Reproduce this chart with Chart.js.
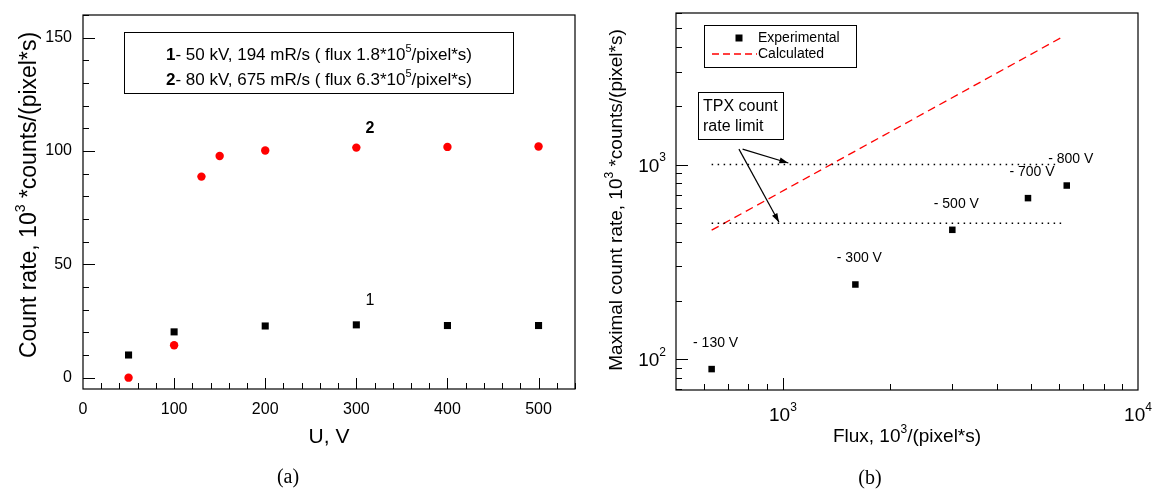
<!DOCTYPE html>
<html><head><meta charset="utf-8">
<script src="https://cdn.jsdelivr.net/npm/chart.js@4/dist/chart.umd.min.js"></script>
<style>
html,body{margin:0;padding:0;background:#fff;width:1153px;height:491px;overflow:hidden}
#c1{position:absolute;left:0;top:0}
#c2{position:absolute;left:580px;top:0}
</style></head><body>
<canvas id="c1" width="580" height="491"></canvas>
<canvas id="c2" width="573" height="491"></canvas>
<script>
// ---------- (a) data ----------
const voltage1 = [50, 100, 200, 300, 400, 500];
const rate1 = [10.0, 20.2, 22.8, 23.3, 23.0, 23.0];
const voltage2 = [50, 100, 130, 150, 200, 300, 400, 500];
const rate2 = [0.0, 14.3, 88.7, 97.8, 100.2, 101.5, 101.8, 102.0];
const xTicksA = [0, 100, 200, 300, 400, 500];
const yTicksA = [0, 50, 100, 150];
const seriesTags = ['1', '2'];
const seriesTagX = [315, 315];
const seriesTagY = [34, 110];
const legendLinesA = [
  [{t:'1', b:true}, {t:'- 50 kV, 194 mR/s ( flux 1.8*10'}, {t:'5', sup:true}, {t:'/pixel*s)'}],
  [{t:'2', b:true}, {t:'- 80 kV, 675 mR/s ( flux 6.3*10'}, {t:'5', sup:true}, {t:'/pixel*s)'}]
];

// ---------- (b) data ----------
const flux = [630, 1600, 3000, 4900, 6300];
const maxRate = [89, 242, 462, 672, 780];
const biasLabels = ['- 130 V', '- 300 V', '- 500 V', '- 700 V', '- 800 V'];
const calcFlux = [630, 6100];
const calcRate = [460, 4500];
const limitHighX = [630, 5900];
const limitHighY = [1000, 1000];
const limitLowX = [630, 6200];
const limitLowY = [500, 500];
const xTicksB = [1000, 10000];
const yTicksB = [100, 1000];
const arrowStart = [[770, 1200], [752, 1200]];
const arrowEnd = [[1036, 1018], [975, 505]];

const SANS = '"Liberation Sans", Arial, sans-serif';
const SERIF = '"Liberation Serif", "Times New Roman", serif';

function drawRich(ctx, segs, x, y, size, align, family, supRaise) {
  family = family || SANS;
  const raise = supRaise == null ? 0.5 : supRaise;
  let total = 0;
  const parts = segs.map(s => {
    const fs = s.sup ? Math.round(size * 0.62) : size;
    const f = (s.b ? 'bold ' : '') + fs + 'px ' + family;
    ctx.font = f;
    const w = ctx.measureText(s.t).width;
    total += w;
    return {s, f, w};
  });
  let cx = align === 'center' ? x - total / 2 : align === 'right' ? x - total : x;
  ctx.textAlign = 'left';
  ctx.textBaseline = 'alphabetic';
  for (const p of parts) {
    ctx.font = p.f;
    ctx.fillText(p.s.t, cx, y + (p.s.sup ? -size * raise : 0));
    cx += p.w;
  }
}
function line(ctx, x1, y1, x2, y2) {
  ctx.beginPath(); ctx.moveTo(x1, y1); ctx.lineTo(x2, y2); ctx.stroke();
}

// ---------- chart (a) ----------
const frameA = {
  id: 'frameA',
  afterDraw(chart) {
    const ctx = chart.ctx, ca = chart.chartArea, xs = chart.scales.x, ys = chart.scales.y;
    ctx.save();
    ctx.strokeStyle = '#000'; ctx.fillStyle = '#000'; ctx.lineWidth = 1.2;
    ctx.strokeRect(ca.left, ca.top, ca.right - ca.left, ca.bottom - ca.top);
    ctx.lineWidth = 1;
    for (let v = 0; v <= ys.max; v += 10) {
      const y = Math.round(ys.getPixelForValue(v)) + 0.5;
      line(ctx, ca.left, y, ca.left + (yTicksA.includes(v) ? 12 : 6), y);
    }
    for (let v = 20; v <= xs.max; v += 20) {
      const x = Math.round(xs.getPixelForValue(v)) + 0.5;
      line(ctx, x, ca.bottom, x, ca.bottom - (xTicksA.includes(v) ? 11 : 6));
    }
    ctx.font = '16px ' + SANS;
    ctx.textAlign = 'right'; ctx.textBaseline = 'middle';
    yTicksA.forEach(v => ctx.fillText(String(v), ca.left - 11, ys.getPixelForValue(v)));
    ctx.textAlign = 'center';
    xTicksA.forEach(v => ctx.fillText(String(v), xs.getPixelForValue(v), 410));
    // axis titles
    ctx.font = '21px ' + SANS;
    ctx.fillText('U, V', (ca.left + ca.right) / 2, 437);
    ctx.save();
    ctx.translate(28, 195); ctx.rotate(-Math.PI / 2);
    drawRich(ctx, [{t:'Count rate, 10'}, {t:'3', sup:true}, {t:' *counts/(pixel*s)'}], 0, 8, 23, 'center');
    ctx.restore();
    // sub caption
    ctx.font = '20px ' + SERIF; ctx.textAlign = 'center'; ctx.textBaseline = 'middle';
    ctx.fillText('(a)', 288, 478);
    // legend box
    ctx.lineWidth = 1;
    ctx.strokeRect(124.5, 32.5, 389, 61);
    drawRich(ctx, legendLinesA[0], 319, 60, 17, 'center');
    drawRich(ctx, legendLinesA[1], 319, 85, 17, 'center');
    // series tags
    seriesTags.forEach((t, i) => {
      ctx.font = (i === 1 ? 'bold ' : '') + '16px ' + SANS;
      ctx.textAlign = 'center'; ctx.textBaseline = 'middle';
      ctx.fillText(t, xs.getPixelForValue(seriesTagX[i]), ys.getPixelForValue(seriesTagY[i]));
    });
    ctx.restore();
  }
};

new Chart(document.getElementById('c1'), {
  type: 'scatter',
  data: {
    datasets: [
      {data: voltage1.map((x, i) => ({x, y: rate1[i]})), pointStyle: 'rect', pointRadius: 5,
       backgroundColor: '#000', borderColor: '#000', borderWidth: 0},
      {data: voltage2.map((x, i) => ({x, y: rate2[i]})), pointStyle: 'circle', pointRadius: 4.2,
       backgroundColor: '#ff0000', borderColor: '#ff0000', borderWidth: 0}
    ]
  },
  options: {
    responsive: false, animation: false, devicePixelRatio: 1, events: [],
    layout: {padding: {left: 83, right: 4, top: 15, bottom: 102}},
    plugins: {legend: {display: false}, tooltip: {enabled: false}},
    scales: {
      x: {type: 'linear', min: 0, max: 540, display: false},
      y: {type: 'linear', min: -5, max: 160, display: false}
    }
  },
  plugins: [frameA]
});

// ---------- chart (b) ----------
const frameB = {
  id: 'frameB',
  afterDraw(chart) {
    const ctx = chart.ctx, ca = chart.chartArea, xs = chart.scales.x, ys = chart.scales.y;
    ctx.save();
    ctx.strokeStyle = '#000'; ctx.fillStyle = '#000'; ctx.lineWidth = 1.2;
    ctx.strokeRect(ca.left, ca.top, ca.right - ca.left, ca.bottom - ca.top);
    ctx.lineWidth = 1;
    for (let d = 10; d <= 1000; d *= 10) {
      for (let m = 1; m <= 9; m++) {
        const v = m * d;
        if (v < ys.min || v > ys.max) continue;
        const y = Math.round(ys.getPixelForValue(v)) + 0.5;
        line(ctx, ca.left, y, ca.left + (m === 1 ? 12 : 6), y);
      }
    }
    for (let d = 100; d <= 1000; d *= 10) {
      for (let m = 1; m <= 9; m++) {
        const v = m * d;
        if (v <= xs.min || v >= xs.max) continue;
        const x = Math.round(xs.getPixelForValue(v)) + 0.5;
        line(ctx, x, ca.bottom, x, ca.bottom - (m === 1 ? 12 : 6));
      }
    }
    const sup = v => [{t:'10'}, {t:String(Math.round(Math.log10(v))), sup:true}];
    yTicksB.forEach(v => drawRich(ctx, sup(v), ca.left - 10, ys.getPixelForValue(v) + 7, 19, 'right', SANS, 0.55));
    xTicksB.forEach(v => drawRich(ctx, sup(v), xs.getPixelForValue(v), 421, 19, 'center', SANS, 0.55));
    drawRich(ctx, [{t:'Flux, 10'}, {t:'3', sup:true}, {t:'/(pixel*s)'}], (ca.left + ca.right) / 2, 442, 19, 'center');
    ctx.save();
    ctx.translate(35, 200); ctx.rotate(-Math.PI / 2);
    drawRich(ctx, [{t:'Maximal count rate, 10'}, {t:'3', sup:true}, {t:' *counts/(pixel*s)'}], 0, 7, 19, 'center');
    ctx.restore();
    ctx.font = '20px ' + SERIF; ctx.textAlign = 'center'; ctx.textBaseline = 'middle';
    ctx.fillText('(b)', 290, 479);
    // bias labels
    ctx.font = '14px ' + SANS;
    flux.forEach((f, i) => {
      ctx.fillText(biasLabels[i], xs.getPixelForValue(f) + 4, ys.getPixelForValue(maxRate[i]) - 26);
    });
    // legend
    ctx.lineWidth = 1;
    ctx.strokeRect(124.5, 25.5, 152, 42);
    ctx.fillRect(159 - 3.5, 38 - 3.5, 7, 7);
    ctx.save();
    ctx.strokeStyle = '#ff0000'; ctx.lineWidth = 1.3; ctx.setLineDash([7, 4]);
    line(ctx, 132, 54, 177, 54);
    ctx.restore();
    ctx.font = '14px ' + SANS; ctx.textAlign = 'left'; ctx.textBaseline = 'middle';
    ctx.fillText('Experimental', 178, 38);
    ctx.fillText('Calculated', 178, 54);
    // TPX box
    ctx.strokeRect(118.5, 92.5, 85, 47);
    ctx.font = '16px ' + SANS; ctx.textBaseline = 'alphabetic';
    ctx.fillText('TPX count', 123, 111);
    ctx.fillText('rate limit', 123, 131);
    // arrows
    arrowStart.forEach((s, i) => {
      const x1 = xs.getPixelForValue(s[0]), y1 = ys.getPixelForValue(s[1]);
      const x2 = xs.getPixelForValue(arrowEnd[i][0]), y2 = ys.getPixelForValue(arrowEnd[i][1]);
      ctx.lineWidth = 1.2;
      line(ctx, x1, y1, x2, y2);
      const a = Math.atan2(y2 - y1, x2 - x1), L = 9, W = 3;
      ctx.beginPath();
      ctx.moveTo(x2, y2);
      ctx.lineTo(x2 - L * Math.cos(a) + W * Math.sin(a), y2 - L * Math.sin(a) - W * Math.cos(a));
      ctx.lineTo(x2 - L * Math.cos(a) - W * Math.sin(a), y2 - L * Math.sin(a) + W * Math.cos(a));
      ctx.closePath(); ctx.fill();
    });
    ctx.restore();
  }
};

new Chart(document.getElementById('c2'), {
  type: 'scatter',
  data: {
    datasets: [
      {data: limitHighX.map((x, i) => ({x, y: limitHighY[i]})), showLine: true, pointRadius: 0,
       borderColor: '#000', borderWidth: 1.5, borderDash: [1.5, 4.5]},
      {data: limitLowX.map((x, i) => ({x, y: limitLowY[i]})), showLine: true, pointRadius: 0,
       borderColor: '#000', borderWidth: 1.5, borderDash: [1.5, 4.5]},
      {data: calcFlux.map((x, i) => ({x, y: calcRate[i]})), showLine: true, pointRadius: 0,
       borderColor: '#ff0000', borderWidth: 1.3, borderDash: [8, 5]},
      {data: flux.map((x, i) => ({x, y: maxRate[i]})), pointStyle: 'rect', pointRadius: 4.6,
       backgroundColor: '#000', borderColor: '#000', borderWidth: 0}
    ]
  },
  options: {
    responsive: false, animation: false, devicePixelRatio: 1, events: [],
    layout: {padding: {left: 96, right: 15, top: 13, bottom: 101}},
    plugins: {legend: {display: false}, tooltip: {enabled: false}},
    scales: {
      x: {type: 'logarithmic', min: 500, max: 10000, display: false},
      y: {type: 'logarithmic', min: 69.5, max: 6000, display: false}
    }
  },
  plugins: [frameB]
});
</script>
</body></html>
